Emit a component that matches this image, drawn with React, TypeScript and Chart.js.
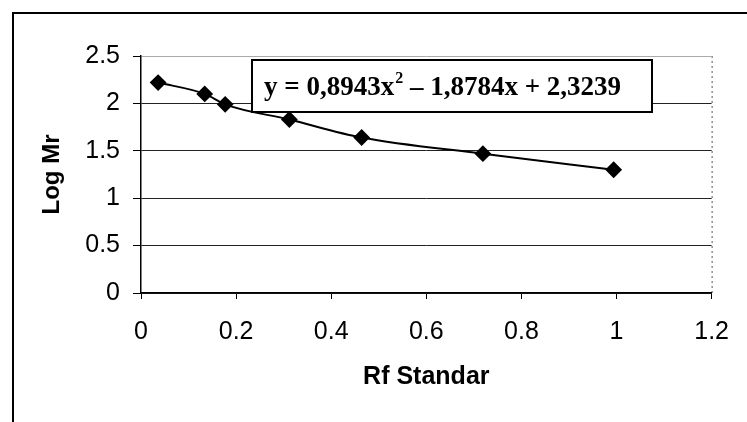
import React, { useEffect, useRef } from "react";
import { Chart, registerables } from "chart.js";

Chart.register(...registerables);

const rfValues = [0.036, 0.134, 0.177, 0.312, 0.464, 0.719, 0.994];
const logMrValues = [2.22, 2.1, 1.99, 1.83, 1.64, 1.47, 1.3];
const xTickLabels = ["0", "0.2", "0.4", "0.6", "0.8", "1", "1.2"];
const yTickLabels = ["0", "0.5", "1", "1.5", "2", "2.5"];
const equationParts = ["y = 0,8943x", "2", " \u2013 1,8784x + 2,3239"];
const xTitle = "Rf Standar";
const yTitle = "Log Mr";

const decorPlugin = {
  id: "decor",
  beforeDraw(chart: any) {
    const { ctx, chartArea } = chart;
    ctx.save();
    ctx.fillStyle = "#ffffff";
    ctx.fillRect(0, 0, chart.width, chart.height);
    ctx.strokeStyle = "#000";
    ctx.lineWidth = 2;
    ctx.beginPath();
    ctx.moveTo(13, chart.height + 5);
    ctx.lineTo(13, 13);
    ctx.lineTo(chart.width + 5, 13);
    ctx.stroke();
    ctx.strokeStyle = "#555";
    ctx.lineWidth = 1;
    ctx.setLineDash([2, 3]);
    ctx.beginPath();
    ctx.moveTo(chartArea.right + 0.5, chartArea.top);
    ctx.lineTo(chartArea.right + 0.5, chartArea.bottom);
    ctx.stroke();
    ctx.restore();
  },
  afterDraw(chart: any) {
    const { ctx, chartArea } = chart;
    const bx = chartArea.left + 111;
    const by = chartArea.top + 4;
    const bw = 400;
    const bh = 52;
    ctx.save();
    ctx.fillStyle = "#fff";
    ctx.fillRect(bx, by, bw, bh);
    ctx.strokeStyle = "#000";
    ctx.lineWidth = 2;
    ctx.strokeRect(bx, by, bw, bh);
    ctx.fillStyle = "#000";
    ctx.textBaseline = "alphabetic";
    ctx.textAlign = "left";
    const base = by + 35;
    let x = bx + 12;
    ctx.font = "bold 27px 'Liberation Serif', 'Times New Roman', serif";
    ctx.fillText(equationParts[0], x, base);
    x += ctx.measureText(equationParts[0]).width;
    ctx.font = "bold 16px 'Liberation Serif', 'Times New Roman', serif";
    ctx.fillText(equationParts[1], x + 1, base - 12);
    x += ctx.measureText(equationParts[1]).width + 1;
    ctx.font = "bold 27px 'Liberation Serif', 'Times New Roman', serif";
    ctx.fillText(equationParts[2], x, base);
    ctx.restore();
  },
};

export default function App() {
  const canvasRef = useRef<HTMLCanvasElement | null>(null);

  useEffect(() => {
    if (!canvasRef.current) return;
    const chart = new Chart(canvasRef.current, {
      type: "scatter",
      data: {
        datasets: [
          {
            data: rfValues.map((x, i) => ({ x, y: logMrValues[i] })),
            showLine: true,
            borderColor: "#000",
            borderWidth: 2,
            backgroundColor: "#000",
            pointStyle: "rectRot",
            pointRadius: 7,
            pointBackgroundColor: "#000",
            pointBorderColor: "#000",
            cubicInterpolationMode: "monotone",
          },
        ],
      },
      options: {
        animation: false,
        responsive: false,
        devicePixelRatio: 1,
        layout: { padding: { left: 0, right: 33, top: 56, bottom: 0 } },
        plugins: {
          legend: { display: false },
          tooltip: { enabled: false },
        },
        scales: {
          x: {
            type: "linear",
            min: 0,
            max: 1.2,
            afterFit: (s: any) => {
              s.height = 129;
            },
            afterBuildTicks: (s: any) => {
              s.ticks = xTickLabels.map((l) => ({ value: parseFloat(l) }));
            },
            ticks: {
              color: "#000",
              padding: 18,
              font: { family: "'Liberation Sans', Arial, sans-serif", size: 25 },
              callback: (_v: any, i: number) => xTickLabels[i],
              maxRotation: 0,
              autoSkip: false,
            },
            grid: {
              drawOnChartArea: false,
              drawTicks: true,
              tickLength: 6,
              tickColor: "#000",
            },
            border: { display: true, color: "#000", width: 1.5 },
            title: {
              display: true,
              text: xTitle,
              color: "#000",
              font: { family: "'Liberation Sans', Arial, sans-serif", size: 25, weight: "bold" },
              padding: { top: 0, bottom: 30 },
            },
          },
          y: {
            type: "linear",
            min: 0,
            max: 2.5,
            afterFit: (s: any) => {
              s.width = 141;
            },
            afterBuildTicks: (s: any) => {
              s.ticks = yTickLabels.map((l) => ({ value: parseFloat(l) }));
            },
            ticks: {
              color: "#000",
              padding: 13,
              font: { family: "'Liberation Sans', Arial, sans-serif", size: 25 },
              callback: (_v: any, i: number) => yTickLabels[i],
              autoSkip: false,
            },
            grid: {
              color: (c: any) => (c.tick && c.tick.value === 2.5 ? "#aaa" : "#222"),
              lineWidth: 1,
              drawTicks: true,
              tickLength: 8,
              tickColor: "#000",
            },
            border: { display: true, color: "#000", width: 1.5 },
            title: {
              display: true,
              text: yTitle,
              color: "#000",
              font: { family: "'Liberation Sans', Arial, sans-serif", size: 24, weight: "bold" },
              padding: { top: 38, bottom: 0 },
            },
          },
        },
      },
      plugins: [decorPlugin],
    });
    return () => chart.destroy();
  }, []);

  return (
    <div style={{ position: "fixed", left: 0, top: 0, width: 747, height: 422, overflow: "hidden", background: "#fff" }}>
      <canvas ref={canvasRef} width={747} height={422} style={{ display: "block" }} />
    </div>
  );
}
